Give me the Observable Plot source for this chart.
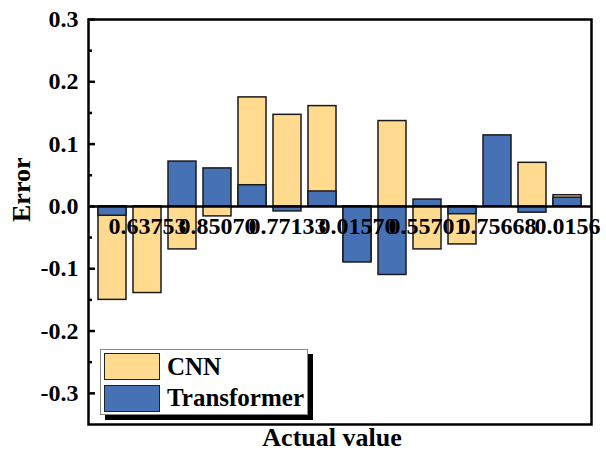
<!DOCTYPE html>
<html><head><meta charset="utf-8">
<script src="https://cdn.jsdelivr.net/npm/d3@7"></script>
<script src="https://cdn.jsdelivr.net/npm/@observablehq/plot@0.6"></script>
<style>
body{margin:0;background:#fff;}
#wrap{position:relative;width:606px;height:459px;font-family:"Liberation Serif","Times New Roman",serif;font-weight:bold;overflow:hidden;}
#wrap svg{position:absolute;left:0;top:0;}
.lg-box{position:absolute;left:100px;top:349px;width:208px;height:66px;box-sizing:border-box;border:1px solid #888;background:#fff;box-shadow:5px 5px 0 #000;}
.sw{position:absolute;left:104px;width:56px;height:27px;box-sizing:border-box;border:1.5px solid #222;}
.lt{position:absolute;left:167px;font-size:25px;line-height:25px;color:#000;white-space:nowrap;}
</style></head><body><div id="wrap"></div>
<script>
const categories = [1,2,3,4,5,6,7,8,9,10,11,12,13,14];
const cnn = [-0.150,-0.139,-0.069,-0.016,0.175,0.147,0.161,-0.088,0.137,-0.069,-0.061,0,0.070,0.018];
const transformer = [-0.015,0,0.072,0.061,0.034,-0.008,0.024,-0.090,-0.110,0.011,-0.0125,0.114,-0.010,0.014];
const labelCategories = [2,4,6,8,10,12,14];
const tickLabels = ["0.63753","0.85070","0.77133","0.01570","0.55701","0.75668","0.0156"];
const yMajor = [-0.3,-0.2,-0.1,0,0.1,0.2,0.3];
const yMinor = [-0.25,-0.15,-0.05,0.05,0.15,0.25];
const seriesNames = ["CNN","Transformer"];
const colors = ["#FFDA8F","#4671B5"];

const cnnData = categories.map((c,i)=>({cat:c, v:cnn[i]}));
const trData = categories.map((c,i)=>({cat:c, v:transformer[i]}));
const labelData = labelCategories.map((c,i)=>({cat:c, label:tickLabels[i]}));

const chart = Plot.plot({
  width: 606, height: 459,
  marginLeft: 88, marginRight: 15, marginTop: 19, marginBottom: 35,
  x: {type:"band", domain: categories, padding: 0.2, axis: null},
  y: {domain: [-0.35, 0.3], axis: null},
  style: {fontFamily: "Liberation Serif, Times New Roman, serif", background: "transparent", overflow: "visible", color: "#000"},
  marks: [
    Plot.barY(cnnData, {x:"cat", y:"v", fill: colors[0], stroke:"#1a1a1a", strokeWidth:1.5}),
    Plot.barY(trData, {x:"cat", y:"v", fill: colors[1], stroke:"#1a1a1a", strokeWidth:1.5}),
    Plot.ruleY([0], {stroke:"#000", strokeWidth:2.5}),
    Plot.axisY(yMajor, {anchor:"left", label:null, tickSize:7, dx:7, strokeWidth:2.5, tickFormat: () => ""}),
    Plot.axisY(yMinor, {anchor:"left", label:null, tickSize:4, dx:4, strokeWidth:2.5, tickFormat: () => ""}),
    Plot.axisY(yMajor, {anchor:"left", label:null, tickSize:0, tickPadding:10, tickFormat: d => d.toFixed(1), fontSize:24, fontWeight:"bold"}),
    Plot.text(labelData, {x:"cat", y: () => 0, text:"label", dy: 20, fontSize: 24, fontWeight:"bold", fill:"#000"}),
    Plot.frame({stroke:"#000", strokeWidth: 2.5}),
    Plot.text(["Error"], {frameAnchor:"left", rotate:-90, dx:-67, fontSize:26, fontWeight:"bold", fill:"#000"}),
    Plot.text(["Actual value"], {frameAnchor:"bottom", dx:-8, dy:21, fontSize:26, fontWeight:"bold", fill:"#000"})
  ]
});
const wrap = document.getElementById("wrap");
wrap.appendChild(chart);

const box = document.createElement("div"); box.className = "lg-box"; wrap.appendChild(box);
const swTops = [353, 384.5], txtTops = [354, 385];
seriesNames.forEach((name,i)=>{
  const s = document.createElement("div"); s.className="sw"; s.style.top = swTops[i]+"px"; s.style.background = colors[i]; wrap.appendChild(s);
  const t = document.createElement("div"); t.className="lt"; t.style.top = txtTops[i]+"px"; t.textContent = name; wrap.appendChild(t);
});
</script></body></html>
